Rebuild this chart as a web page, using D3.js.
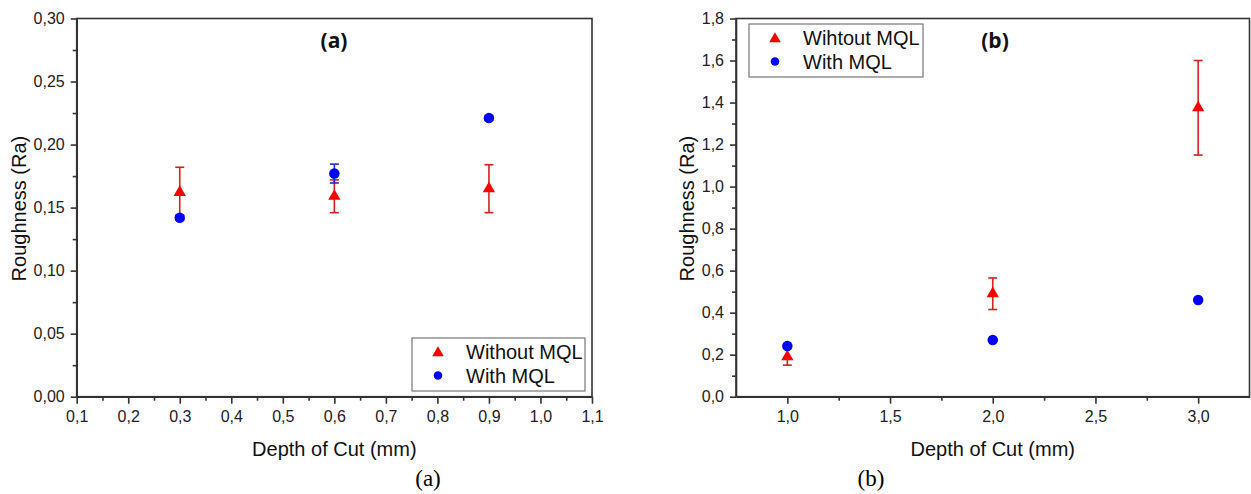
<html>
<meta charset="utf-8">
<script src="https://cdn.jsdelivr.net/npm/d3@7"></script>
<style>
body{
  margin: 0;
  background-color: white;
}
.frame{
  fill: none;
  stroke: #333;
  stroke-width: 1.6;
}
.axis path, .axis line{
  stroke: #333;
  stroke-width: 1.6;
}
.axis text{
  font-family: "Liberation Sans", Arial, sans-serif;
  font-size: 16px;
  fill: #222;
}
.axisLabel{
  font-family: "Liberation Sans", Arial, sans-serif;
  font-size: 20px;
  fill: #111;
}
.legendText{
  font-family: "Liberation Sans", Arial, sans-serif;
  font-size: 20px;
  fill: #111;
}
.panelTitle{
  font-family: "Open Sans", "DejaVu Sans", sans-serif;
  font-weight: bold;
  font-size: 21px;
  fill: #111;
}
.caption{
  font-family: "Liberation Serif", "Times New Roman", serif;
  font-size: 23px;
  fill: #000;
}
</style>

<body>
  <div id="chartDiv"></div>

<script>
var width = 1251,
    height = 494;

// panel (a)
var depthA = [0.3, 0.6, 0.9];
var withoutA = [0.162, 0.159, 0.165],
    withoutAErr = [0.020, 0.013, 0.019];
var withA = [0.142, 0.177, 0.221],
    withAErr = [0.002, 0.0075, 0.002];
var xTicksA = [0.1, 0.2, 0.3, 0.4, 0.5, 0.6, 0.7, 0.8, 0.9, 1.0, 1.1];
var yTicksA = [0, 0.05, 0.10, 0.15, 0.20, 0.25, 0.30];

// panel (b)
var depthB = [1, 2, 3];
var withoutB = [0.19, 0.49, 1.375],
    withoutBErr = [0.04, 0.075, 0.225];
var withB = [0.241, 0.27, 0.46],
    withBErr = [0.004, 0.004, 0.004];
var xTicksB = [1.0, 1.5, 2.0, 2.5, 3.0];
var yTicksB = [0, 0.2, 0.4, 0.6, 0.8, 1.0, 1.2, 1.4, 1.6, 1.8];

var redCol = "#ff0000",
    redErrCol = "#d42222",
    blueCol = "#0000ff",
    blueErrCol = "#2a2ad0";

var svg = d3.select("#chartDiv").append("svg").attr("width",width).attr("height",height);

function comma(digits){
  return function(d){ return d3.format("." + digits + "f")(d).replace(".", ","); };
}

function drawPanel(p){
  var x = d3.scaleLinear().domain(p.xDomain).range([p.left, p.right]);
  var y = d3.scaleLinear().domain(p.yDomain).range([p.bottom, p.top]);
  var g = svg.append("g");

  // minor ticks (no labels)
  g.append("g").attr("class","axis")
    .attr("transform","translate(0," + p.bottom + ")")
    .call(d3.axisBottom(x).tickValues(p.xMinor).tickSize(4).tickSizeOuter(0).tickFormat(""));
  g.append("g").attr("class","axis")
    .attr("transform","translate(" + p.left + ",0)")
    .call(d3.axisLeft(y).tickValues(p.yMinor).tickSize(4).tickSizeOuter(0).tickFormat(""));

  // major ticks
  var xAxis = g.append("g").attr("class","axis")
    .attr("transform","translate(0," + p.bottom + ")")
    .call(d3.axisBottom(x).tickValues(p.xTicks).tickSize(7).tickSizeOuter(0).tickPadding(7).tickFormat(comma(1)));
  var yAxis = g.append("g").attr("class","axis")
    .attr("transform","translate(" + p.left + ",0)")
    .call(d3.axisLeft(y).tickValues(p.yTicks).tickSize(6).tickSizeOuter(0).tickPadding(6).tickFormat(comma(p.yDigits)));
  xAxis.select(".domain").remove();
  yAxis.select(".domain").remove();

  g.append("rect").attr("class","frame")
    .attr("x",p.left).attr("y",p.top)
    .attr("width",p.right - p.left).attr("height",p.bottom - p.top);

  // error bars + markers
  function series(xs, ys, errs, col, errCol, shape){
    var data = xs.map(function(v,i){ return {x:v, y:ys[i], e:errs[i]}; });
    var eb = g.append("g").selectAll("g").data(data).enter().append("g")
      .style("stroke", errCol).style("stroke-width", 1.6);
    eb.append("line")
      .attr("x1",function(d){return x(d.x)}).attr("x2",function(d){return x(d.x)})
      .attr("y1",function(d){return y(d.y - d.e)}).attr("y2",function(d){return y(d.y + d.e)});
    eb.append("line")
      .attr("x1",function(d){return x(d.x) - 4.5}).attr("x2",function(d){return x(d.x) + 4.5})
      .attr("y1",function(d){return y(d.y + d.e)}).attr("y2",function(d){return y(d.y + d.e)});
    eb.append("line")
      .attr("x1",function(d){return x(d.x) - 4.5}).attr("x2",function(d){return x(d.x) + 4.5})
      .attr("y1",function(d){return y(d.y - d.e)}).attr("y2",function(d){return y(d.y - d.e)});
    g.append("g").selectAll("path").data(data).enter().append("path")
      .attr("d", d3.symbol().type(shape).size(shape === d3.symbolTriangle ? 66 : 86))
      .attr("transform",function(d){ return "translate(" + x(d.x) + "," + y(d.y) + ")"; })
      .style("fill", col);
  }
  series(p.xs, p.without, p.withoutErr, redCol, redErrCol, d3.symbolTriangle);
  series(p.xs, p.with, p.withErr, blueCol, blueErrCol, d3.symbolCircle);

  // axis labels
  g.append("text").attr("class","axisLabel")
    .attr("x",(p.left + p.right) / 2).attr("y",p.bottom + 59)
    .attr("text-anchor","middle").text("Depth of Cut (mm)");
  g.append("text").attr("class","axisLabel")
    .attr("transform","translate(" + p.yLabelX + "," + ((p.top + p.bottom) / 2 + 1) + ") rotate(-90)")
    .attr("text-anchor","middle").text("Roughness (Ra)");

  g.append("text").attr("class","panelTitle")
    .attr("x",p.titleX).attr("y",48).attr("text-anchor","middle").text(p.title);

  // legend
  var lg = g.append("g").attr("transform","translate(" + p.legX + "," + p.legY + ")");
  lg.append("rect").attr("width",p.legW).attr("height",53)
    .style("fill","white").style("stroke","#777").style("stroke-width",1.2);
  lg.append("path").attr("d", d3.symbol().type(d3.symbolTriangle).size(58))
    .attr("transform","translate(26,15)").style("fill",redCol);
  lg.append("path").attr("d", d3.symbol().type(d3.symbolCircle).size(58))
    .attr("transform","translate(26,37.5)").style("fill",blueCol);
  lg.append("text").attr("class","legendText").attr("x",54).attr("y",21).text(p.legLabels[0]);
  lg.append("text").attr("class","legendText").attr("x",54).attr("y",45).text(p.legLabels[1]);

  svg.append("text").attr("class","caption")
    .attr("x",p.captionX).attr("y",486).attr("text-anchor","middle").text(p.title);
}

drawPanel({
  left: 76.7, right: 592, top: 18.5, bottom: 396.7,
  xDomain: [0.1, 1.1], yDomain: [0, 0.30],
  xTicks: xTicksA, yTicks: yTicksA, yDigits: 2,
  xMinor: d3.range(0.15, 1.1, 0.1), yMinor: d3.range(0.025, 0.3, 0.05),
  xs: depthA, without: withoutA, withoutErr: withoutAErr, with: withA, withErr: withAErr,
  yLabelX: 26, titleX: 334, title: "(a)",
  legX: 412, legY: 338, legW: 173, legLabels: ["Without MQL", "With MQL"],
  captionX: 428
});

drawPanel({
  left: 736, right: 1249.5, top: 18.5, bottom: 396.7,
  xDomain: [0.75, 3.25], yDomain: [0, 1.8],
  xTicks: xTicksB, yTicks: yTicksB, yDigits: 1,
  xMinor: [1.25, 1.75, 2.25, 2.75], yMinor: d3.range(0.1, 1.8, 0.2),
  xs: depthB, without: withoutB, withoutErr: withoutBErr, with: withB, withErr: withBErr,
  yLabelX: 694, titleX: 995, title: "(b)",
  legX: 749, legY: 24, legW: 174, legLabels: ["Wihtout MQL", "With MQL"],
  captionX: 871
});
</script>
</body>
</html>
